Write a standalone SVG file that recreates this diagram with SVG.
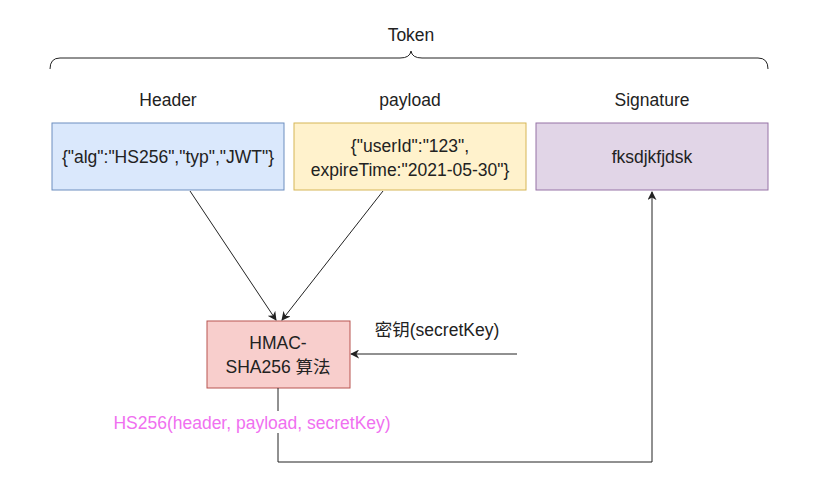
<svg xmlns="http://www.w3.org/2000/svg" width="838" height="477" viewBox="0 0 838 477">
<defs>
<style>
text{font-family:"Liberation Sans",Arial,"Noto Sans CJK SC",sans-serif;font-size:17.5px;fill:#222;text-anchor:middle}
.box{stroke-width:1}
.c{fill:none;stroke:#222;stroke-width:1}
</style>
<marker id="ah" viewBox="0 0 10 10" refX="9" refY="5" markerWidth="9" markerHeight="9" markerUnits="userSpaceOnUse" orient="auto">
<path d="M0,0 L10,5 L0,10 L3,5 Z" fill="#222"/>
</marker>
</defs>
<rect width="838" height="477" fill="#fff"/>
<g id="token">
<text x="411" y="41">Token</text>
<path class="c" d="M50,69 Q50,58 60,58 L400,58 Q410,58 411,51 Q412,58 422,58 L758,58 Q768,58 768,69"/>
</g>
<g id="labels">
<text x="168" y="106">Header</text>
<text x="410" y="106">payload</text>
<text x="652" y="106">Signature</text>
</g>
<g id="header">
<rect class="box" x="52" y="123" width="232" height="67" fill="#dae8fc" stroke="#6c8ebf"/>
<text x="168" y="163">{"alg":"HS256","typ","JWT"}</text>
</g>
<g id="payload">
<rect class="box" x="294" y="123" width="232" height="67" fill="#fff2cc" stroke="#d6b656"/>
<text x="410" y="152">{"userId":"123",</text>
<text x="410" y="176">expireTime:"2021-05-30"}</text>
</g>
<g id="signature">
<rect class="box" x="536" y="123" width="232" height="67" fill="#e1d5e7" stroke="#9673a6"/>
<text x="652" y="163">fksdjkfjdsk</text>
</g>
<g id="hmac">
<rect class="box" x="207" y="321" width="143" height="67" fill="#f8cecc" stroke="#b85450"/>
<text x="278" y="349">HMAC-</text>
<text x="278" y="373">SHA256 算法</text>
</g>
<g id="connectors">
<line class="c" x1="190" y1="191" x2="276" y2="320" marker-end="url(#ah)"/>
<line class="c" x1="383" y1="191" x2="282" y2="320" marker-end="url(#ah)"/>
<line class="c" x1="517" y1="354" x2="351" y2="354" marker-end="url(#ah)"/>
<path class="c" d="M278,388 L278,462 L652,462 L652,192" marker-end="url(#ah)"/>
<text x="437" y="336">密钥(secretKey)</text>
<rect x="108" y="411" width="290" height="22" fill="#fff"/>
<text x="252" y="429" style="fill:#f070f0">HS256(header, payload, secretKey)</text>
</g>
</svg>
